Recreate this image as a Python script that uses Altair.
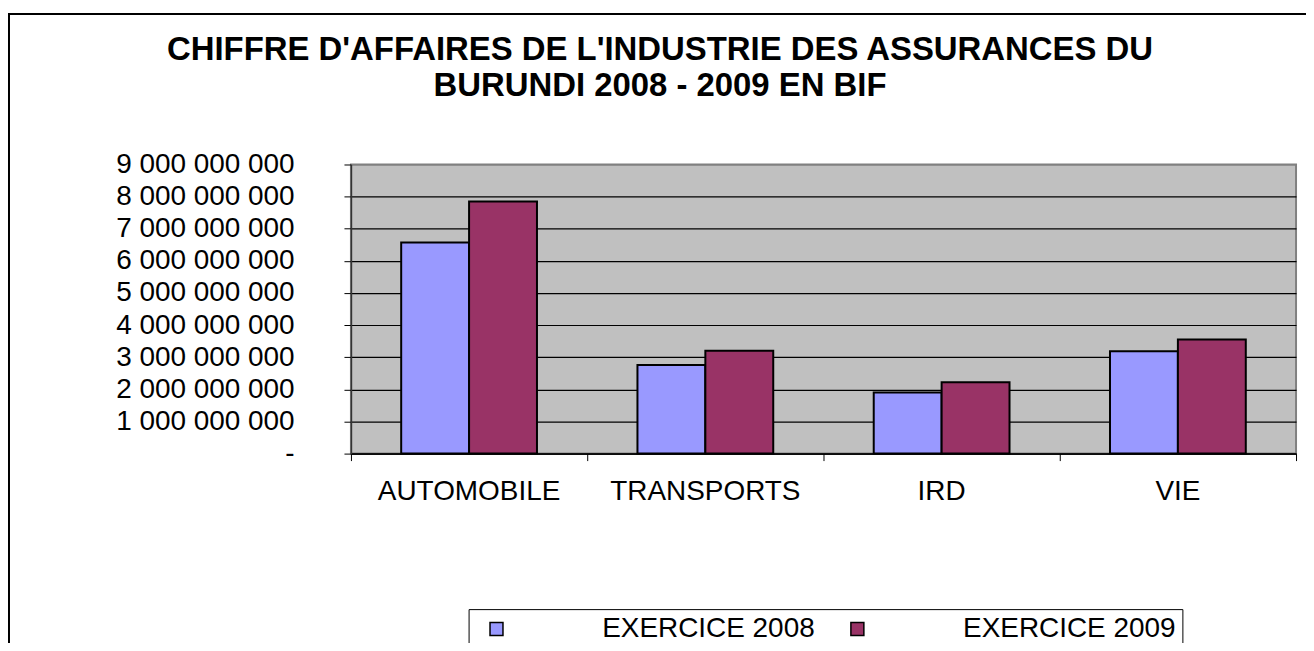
import altair as alt
import pandas as pd

categories = ["AUTOMOBILE", "TRANSPORTS", "IRD", "VIE"]
series = ["EXERCICE 2008", "EXERCICE 2009"]
values_2008 = [6.57e9, 2.76e9, 1.90e9, 3.19e9]
values_2009 = [7.85e9, 3.20e9, 2.22e9, 3.55e9]
y_ticks = [0, 1e9, 2e9, 3e9, 4e9, 5e9, 6e9, 7e9, 8e9, 9e9]
colors = ["#9999FF", "#993366"]
title_lines = ["CHIFFRE D'AFFAIRES DE L'INDUSTRIE DES ASSURANCES DU",
               "BURUNDI 2008 - 2009 EN BIF"]

rows = []
for c, a, b in zip(categories, values_2008, values_2009):
    rows.append({"cat": c, "serie": series[0], "value": a})
    rows.append({"cat": c, "serie": series[1], "value": b})
df = pd.DataFrame(rows)

W, H = 948, 290
FONT = "Liberation Sans"

nb = "\u00a0"
label_expr = ("datum.value == 0 ? '-" + nb * 4 + "' : "
              "replace(format(datum.value, ','), regexp(',', 'g'), ' ')")

bars = alt.Chart(df).mark_bar(stroke="black", strokeWidth=2).encode(
    x=alt.X("cat:N", sort=categories, title=None,
            scale=alt.Scale(paddingInner=0, paddingOuter=0),
            axis=alt.Axis(bandPosition=1, tickExtra=True, labelOffset=0,
                          labelAngle=0, labelFontSize=28, labelFont=FONT,
                          labelColor="black", tickColor="black", tickSize=7,
                          domainColor="black", domainWidth=1.5, labelPadding=17,
                          labelLimit=600, grid=False)),
    xOffset=alt.XOffset("serie:N", sort=series,
                        scale=alt.Scale(paddingInner=0, paddingOuter=0.74)),
    y=alt.Y("value:Q", title=None,
            scale=alt.Scale(domain=[0, 9e9], nice=False),
            axis=alt.Axis(values=y_ticks, grid=True,
                          gridColor={"condition": {"test": "datum.value >= 9e9", "value": "#808080"},
                                     "value": "black"},
                          gridWidth=1.2,
                          labelExpr=label_expr, labelFontSize=28, labelFont=FONT,
                          labelColor="black", labelPadding=50, tickSize=7,
                          labelLimit=600,
                          tickColor="black", domainColor="#333333", domainWidth=1.5)),
    color=alt.Color("serie:N", sort=series,
                    scale=alt.Scale(domain=series, range=colors),
                    legend=alt.Legend(title=None, orient="none", legendX=118, legendY=446,
                                      direction="horizontal", symbolType="square",
                                      symbolSize=169, symbolStrokeColor="black",
                                      symbolStrokeWidth=1.5, symbolOpacity=1,
                                      labelFontSize=28, labelFont=FONT, labelColor="black",
                                      labelOffset=92, columnPadding=20, symbolOffset=8,
                                      labelLimit=600,
                                      strokeColor="black", fillColor="white", padding=6)),
)

frame_df = pd.DataFrame({"k": [0]})
left_border = alt.Chart(frame_df).mark_rule(color="black", strokeWidth=2, clip=False).encode(
    x=alt.value(-343), y=alt.value(-151), y2=alt.value(700))
top_border = alt.Chart(frame_df).mark_rule(color="black", strokeWidth=2, clip=False).encode(
    x=alt.value(-344), x2=alt.value(1000), y=alt.value(-151))

chart = alt.layer(bars, left_border, top_border).properties(
    width=W, height=H,
    autosize=alt.AutoSizeParams(type="none"),
    padding={"left": 344, "top": 156, "right": 10, "bottom": 189},
    title=alt.Title(title_lines, fontSize=33, font=FONT, fontWeight="bold", color="black",
                    anchor="middle", dx=-164, offset=0, dy=90, lineHeight=36),
).configure_view(fill="#C0C0C0", stroke="#808080", strokeWidth=2)

chart.save("out.html", embed_options={"renderer": "svg", "actions": False})
